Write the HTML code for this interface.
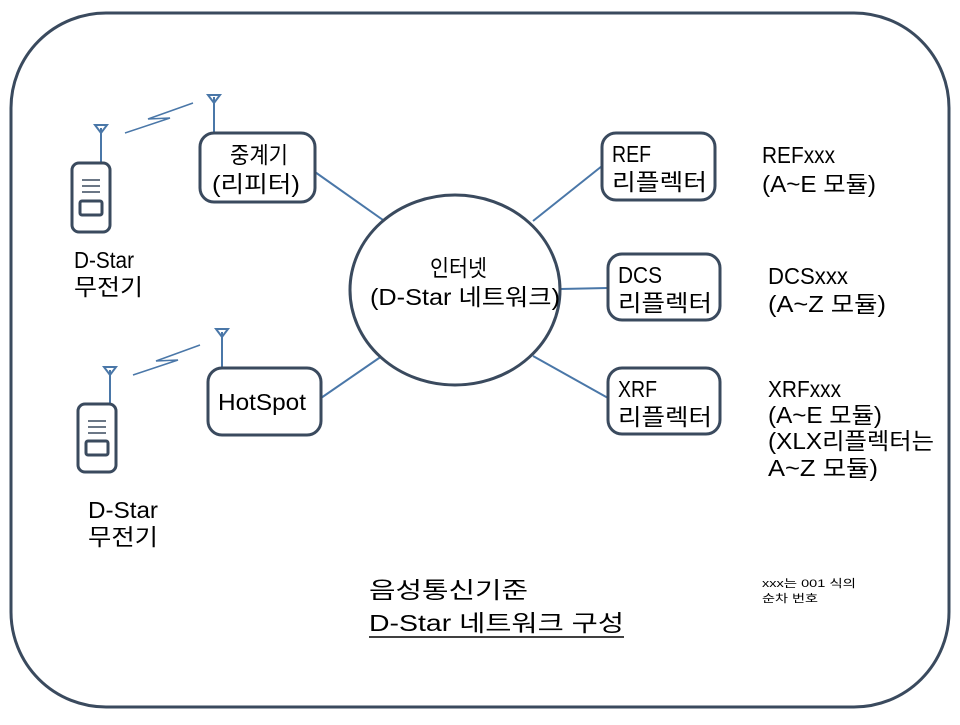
<!DOCTYPE html>
<html><head><meta charset="utf-8"><style>
body{margin:0;background:#fff}
svg text{font-family:"Liberation Sans","Noto Sans CJK KR","NanumGothic",sans-serif;fill:#000}
</style></head><body>
<svg width="960" height="720" viewBox="0 0 960 720" xmlns="http://www.w3.org/2000/svg">
<rect x="11" y="13" width="938" height="694" rx="95" ry="95" fill="#fff" stroke="#3a4a5e" stroke-width="3"/>
<g stroke="#4a77a8" stroke-width="2" fill="none">
<line x1="315" y1="172" x2="383" y2="220"/>
<line x1="602" y1="166" x2="533" y2="221"/>
<line x1="608" y1="288" x2="560" y2="289"/>
<line x1="608" y1="398" x2="533" y2="356"/>
<line x1="321" y1="398" x2="382" y2="356"/>
<polyline points="125,133 170,118 148,119 193,103" stroke-width="1.5"/>
<polyline points="133,375 178,360 156,361 200,345" stroke-width="1.5"/>
<line x1="101" y1="128" x2="101" y2="162"/>
<line x1="214" y1="97" x2="214" y2="132"/>
<line x1="110" y1="370" x2="110" y2="403"/>
<line x1="222" y1="332" x2="222" y2="368"/>
<polygon points="95,125 107,125 101,133"/>
<polygon points="208,95 220,95 214,103"/>
<polygon points="104,367 116,367 110,375"/>
<polygon points="216,329 228,329 222,337"/>
</g>
<g stroke="#3a4a5e" stroke-width="3" fill="#fff">
<ellipse cx="455" cy="290" rx="105" ry="95"/>
<rect x="200" y="133" width="115" height="69" rx="14"/>
<rect x="602" y="133" width="113" height="67" rx="14"/>
<rect x="608" y="254" width="112" height="66" rx="14"/>
<rect x="608" y="368" width="112" height="66" rx="14"/>
<rect x="208" y="368" width="113" height="67" rx="14"/>
<rect x="72" y="163" width="38" height="69" rx="7"/>
<rect x="80" y="201" width="22" height="14" rx="2"/>
<rect x="78" y="404" width="38" height="68" rx="7"/>
<rect x="86" y="441" width="22" height="14" rx="2"/>
</g>
<g stroke="#3a4a5e" stroke-width="1.5">
<line x1="82" y1="180" x2="100" y2="180"/><line x1="82" y1="186" x2="100" y2="186"/><line x1="82" y1="192" x2="100" y2="192"/>
<line x1="88" y1="421" x2="106" y2="421"/><line x1="88" y1="427" x2="106" y2="427"/><line x1="88" y1="433" x2="106" y2="433"/>
</g>
<g font-size="23" lengthAdjust="spacingAndGlyphs">
<text x="230" y="163" textLength="58" lengthAdjust="spacingAndGlyphs">중계기</text>
<text x="212" y="192" textLength="88" lengthAdjust="spacingAndGlyphs">(리피터)</text>
<text x="430" y="276" textLength="57" lengthAdjust="spacingAndGlyphs">인터넷</text>
<text x="370" y="305" textLength="190" lengthAdjust="spacingAndGlyphs">(D-Star 네트워크)</text>
<text x="218" y="410" textLength="88" lengthAdjust="spacingAndGlyphs">HotSpot</text>
<text x="612" y="162" textLength="39" lengthAdjust="spacingAndGlyphs">REF</text>
<text x="612" y="190" textLength="95" lengthAdjust="spacingAndGlyphs">리플렉터</text>
<text x="618" y="283" textLength="44" lengthAdjust="spacingAndGlyphs">DCS</text>
<text x="618" y="311" textLength="94" lengthAdjust="spacingAndGlyphs">리플렉터</text>
<text x="618" y="397" textLength="39" lengthAdjust="spacingAndGlyphs">XRF</text>
<text x="618" y="425" textLength="94" lengthAdjust="spacingAndGlyphs">리플렉터</text>
<text x="762" y="163" textLength="73" lengthAdjust="spacingAndGlyphs">REFxxx</text>
<text x="762" y="192" textLength="114" lengthAdjust="spacingAndGlyphs">(A~E 모듈)</text>
<text x="768" y="284" textLength="80" lengthAdjust="spacingAndGlyphs">DCSxxx</text>
<text x="768" y="312" textLength="118" lengthAdjust="spacingAndGlyphs">(A~Z 모듈)</text>
<text x="768" y="397" textLength="73" lengthAdjust="spacingAndGlyphs">XRFxxx</text>
<text x="768" y="423" textLength="114" lengthAdjust="spacingAndGlyphs">(A~E 모듈)</text>
<text x="768" y="449" textLength="166" lengthAdjust="spacingAndGlyphs">(XLX리플렉터는</text>
<text x="768" y="476" textLength="110" lengthAdjust="spacingAndGlyphs">A~Z 모듈)</text>
<text x="74" y="268" textLength="60" lengthAdjust="spacingAndGlyphs">D-Star</text>
<text x="74" y="295" textLength="69" lengthAdjust="spacingAndGlyphs">무전기</text>
<text x="88" y="518" textLength="70" lengthAdjust="spacingAndGlyphs">D-Star</text>
<text x="88" y="545" textLength="70" lengthAdjust="spacingAndGlyphs">무전기</text>
<text x="369" y="598" textLength="159" lengthAdjust="spacingAndGlyphs">음성통신기준</text>
<text x="369" y="631" textLength="255" lengthAdjust="spacingAndGlyphs">D-Star 네트워크 구성</text>
</g>
<g font-size="11"><text x="762" y="587" textLength="94" lengthAdjust="spacingAndGlyphs">xxx는 001 식의</text><text x="762" y="602" textLength="56" lengthAdjust="spacingAndGlyphs">순차 번호</text></g>
<line x1="369" y1="637" x2="624" y2="637" stroke="#000" stroke-width="1.5"/>
</svg>
</body></html>
